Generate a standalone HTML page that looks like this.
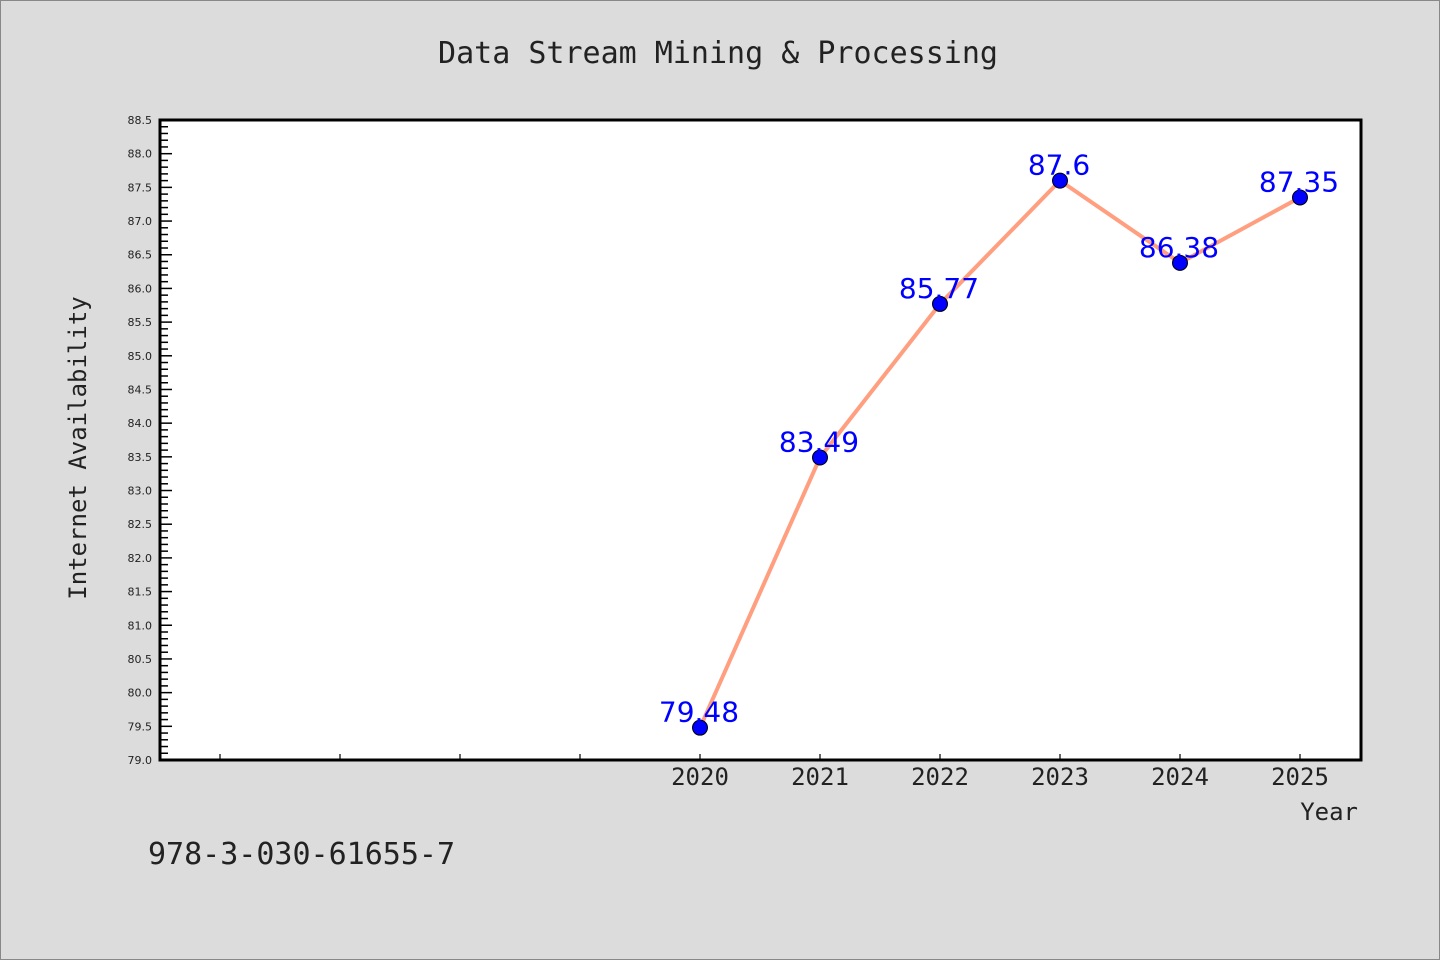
<!DOCTYPE html>
<html><head><meta charset="utf-8"><style>
body{margin:0;background:#dcdcdc;}
svg{display:block;font-family:"DejaVu Sans Mono","Liberation Mono",monospace;}
</style></head><body>
<svg id="chart" width="1440" height="960">
<rect x="0.5" y="0.5" width="1439" height="959" fill="#dcdcdc" stroke="#888"/>
<text x="718" y="63" text-anchor="middle" font-size="30" fill="#222">Data Stream Mining &amp; Processing</text>
<rect x="160" y="120" width="1201" height="640" fill="#fff"/>
<g id="yaxis"></g>
<g id="xaxis"></g>
<g id="series"></g>
<rect x="160" y="120" width="1201" height="640" fill="none" stroke="#000" stroke-width="3"/>
<text x="86" y="448" text-anchor="middle" font-size="24" fill="#222" transform="rotate(-90 86 448)">Internet Availability</text>
<text x="1358" y="820" text-anchor="end" font-size="24" fill="#222">Year</text>
<text x="148" y="864" font-size="30" fill="#222">978-3-030-61655-7</text>
</svg>
<script>
const years=[2020,2021,2022,2023,2024,2025];
const values=[79.48,83.49,85.77,87.6,86.38,87.35];
const blankTicks=[2016,2017,2018,2019];
const yTicks=["79.0","79.5","80.0","80.5","81.0","81.5","82.0","82.5","83.0","83.5","84.0","84.5","85.0","85.5","86.0","86.5","87.0","87.5","88.0","88.5"];
(function(){
const NS="http://www.w3.org/2000/svg";
const yMin=79,yMax=88.5,plotTop=120,plotBot=760;
const y=v=>plotBot-(v-yMin)/(yMax-yMin)*(plotBot-plotTop);
const x=yr=>700+(yr-2020)*120;
function mk(t,a,p){const e=document.createElementNS(NS,t);for(const k in a)e.setAttribute(k,a[k]);p.appendChild(e);return e;}
const ya=document.getElementById('yaxis'),xa=document.getElementById('xaxis'),se=document.getElementById('series');
for(let i=0;i<=95;i++){const v=yMin+i*0.1;const major=i%5===0;
 const l=mk('line',{x1:160,x2:160+(major?12:8),y1:y(v),y2:y(v),stroke:'#000','stroke-width':1.5},ya);
 
 }
yTicks.forEach(s=>{const t=mk('text',{x:152,y:y(parseFloat(s))+4,'text-anchor':'end','font-size':11,fill:'#222','font-family':'DejaVu Sans,sans-serif'},ya);t.textContent=s;
 
 });
blankTicks.concat(years).forEach(yr=>{const l=mk('line',{x1:x(yr),x2:x(yr),y1:760,y2:754,stroke:'#000','stroke-width':1.2},xa);
 
 });
years.forEach(yr=>{const t=mk('text',{x:x(yr),y:785,'text-anchor':'middle','font-size':24,fill:'#222'},xa);t.textContent=yr;
 
 });
const pl=mk('polyline',{points:years.map((yr,i)=>x(yr)+','+y(values[i])).join(' '),fill:'none',stroke:'#ff9f80','stroke-width':4,'stroke-linejoin':'round'},se);


years.forEach((yr,i)=>{const c=mk('circle',{cx:x(yr),cy:y(values[i]),r:7.5,fill:'#0000ff',stroke:'#000','stroke-width':1},se);
 
 
 const t=mk('text',{x:x(yr)-1,y:y(values[i])-6,'text-anchor':'middle','font-size':28,fill:'#0000ff','font-family':'DejaVu Sans,sans-serif'},se);t.textContent=values[i];
 
 });
})();
</script>
</body></html>
